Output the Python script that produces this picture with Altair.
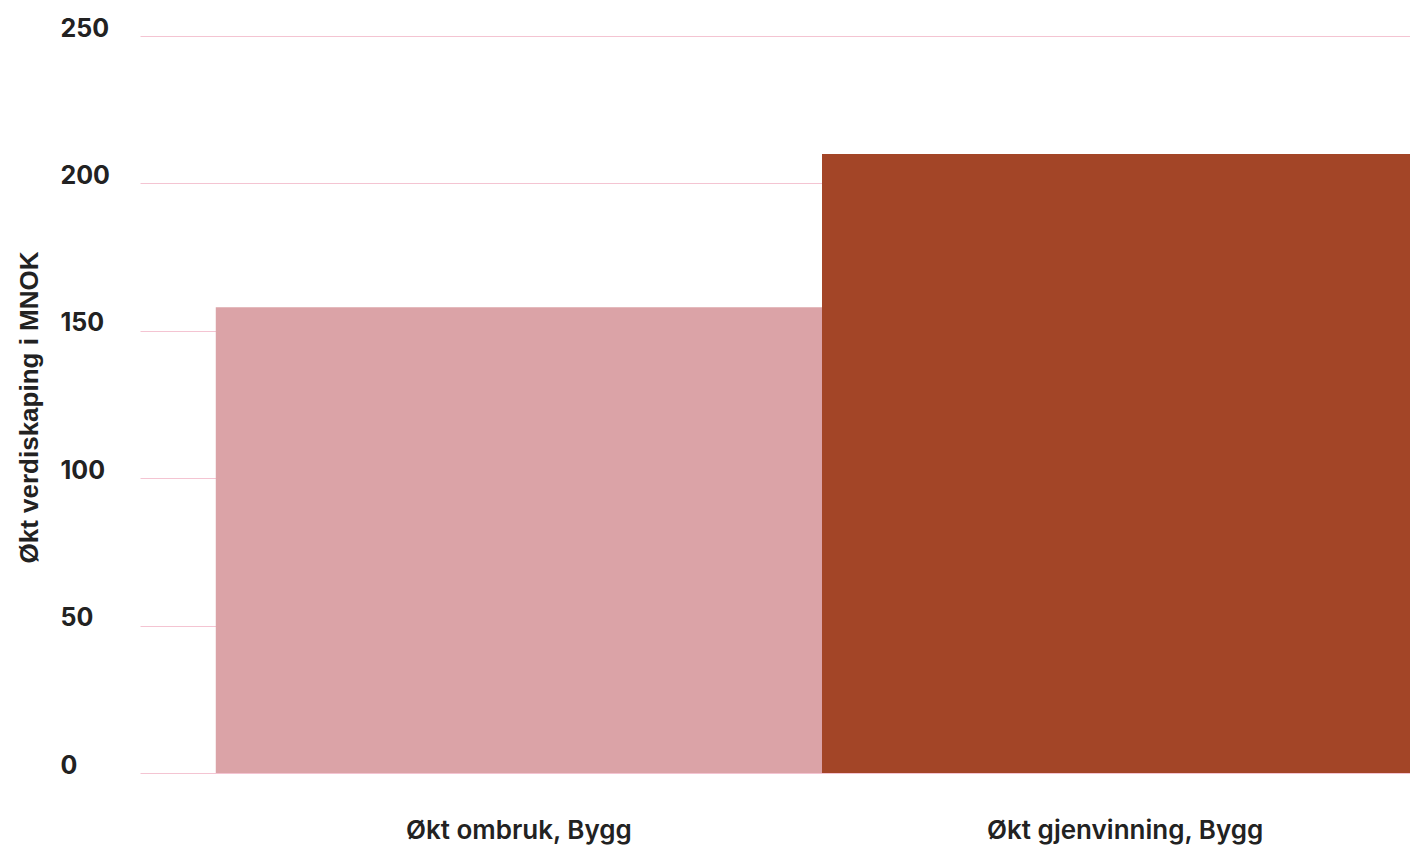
import altair as alt
import pandas as pd

categories = ["Økt ombruk, Bygg", "Økt gjenvinning, Bygg"]
values = [158, 210]
colors = ["#DBA3A7", "#A34527"]

df = pd.DataFrame({"kategori": categories, "verdi": values, "farge": colors})

bars = alt.Chart(df).mark_bar(clip=True).encode(
    x=alt.X(
        "kategori:N",
        sort=categories,
        title=None,
        scale=alt.Scale(range=[0, 1364], paddingInner=0, paddingOuter=0.125),
        axis=alt.Axis(
            labelAngle=0,
            labelFont="Inter",
            labelFontWeight=600,
            labelFontSize=26,
            labelColor="#222222",
            labelBaseline="alphabetic",
            labelPadding=65,
            labelLimit=0,
            labelFlush=False,
            labelOverlap=False,
            ticks=False,
            tickSize=0,
            domain=False,
            grid=False,
        ),
    ),
    y=alt.Y(
        "verdi:Q",
        title="Økt verdiskaping i MNOK",
        scale=alt.Scale(domain=[0, 250], nice=False),
        axis=alt.Axis(
            values=[0, 50, 100, 150, 200, 250],
            labelFont="Inter",
            labelFontWeight="bold",
            labelFontSize=25,
            labelColor="#222222",
            labelAlign="left",
            labelBaseline="alphabetic",
            labelPadding=80,
            ticks=False,
            tickSize=0,
            domain=False,
            grid=True,
            gridColor="#F4C4D2",
            gridWidth=1,
            titleFont="Liberation Sans",
            titleFontWeight="bold",
            titleFontSize=26,
            titleColor="#222222",
            titleX=-111,
            titleY=371,
            titleAlign="center",
            titleBaseline="middle",
            titleAngle=-90,
        ),
    ),
    color=alt.Color("farge:N", scale=None, legend=None),
)

chart = bars.properties(
    width=1270,
    height=737,
    autosize=alt.AutoSizeParams(type="none"),
    padding={"left": 132, "top": 28, "right": 0, "bottom": 72},
).configure_view(strokeWidth=0)

chart.save("out.html", embed_options={"renderer": "svg", "actions": False})
